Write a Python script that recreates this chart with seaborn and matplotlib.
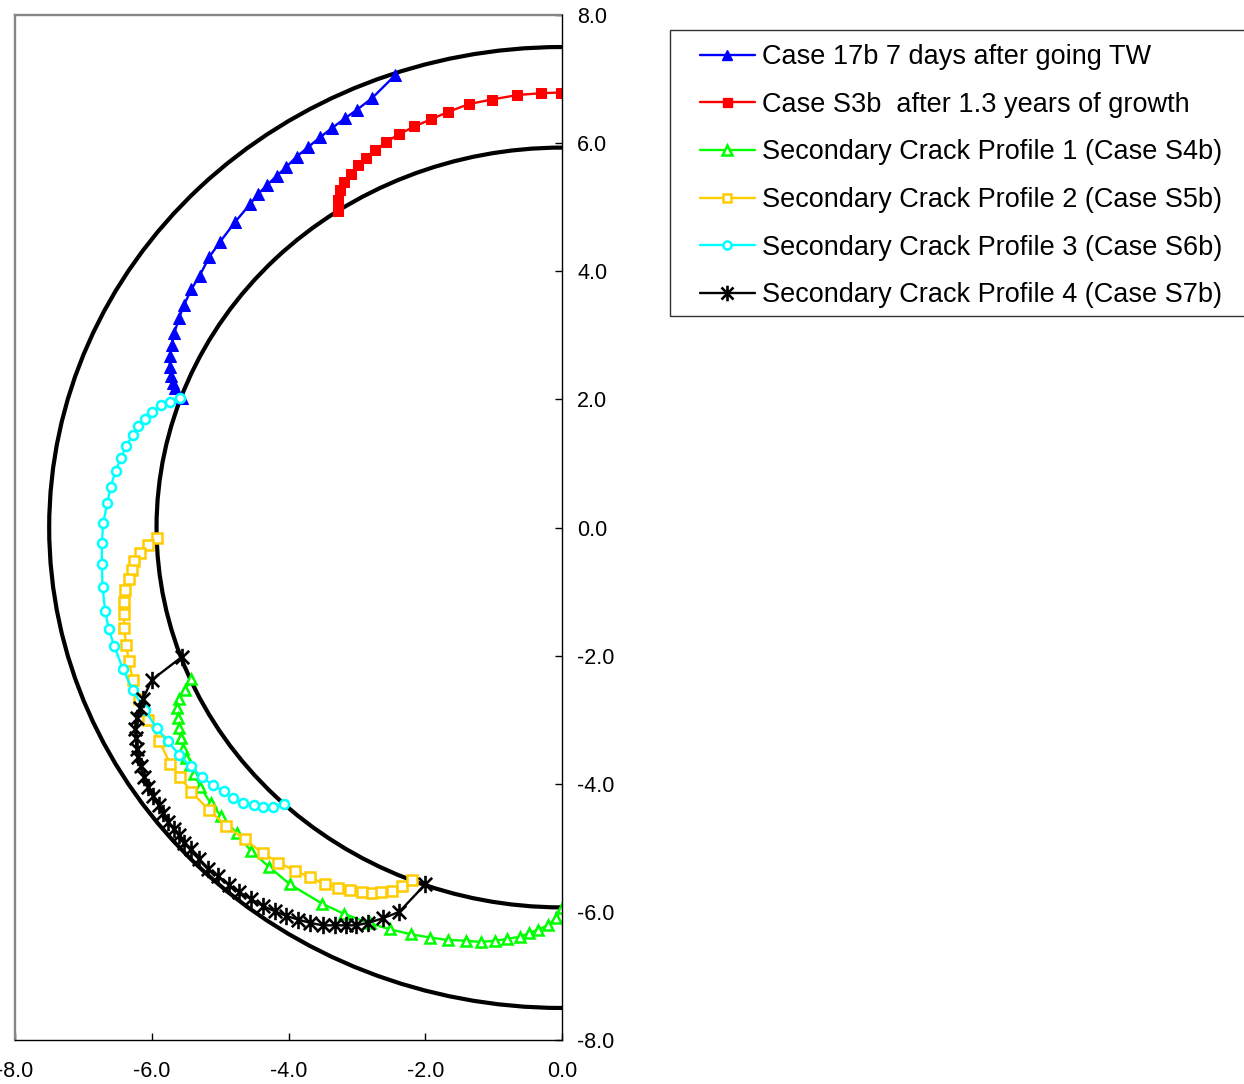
import numpy as np
import pandas as pd
import matplotlib
matplotlib.use("Agg")
import matplotlib.pyplot as plt
import seaborn as sns
from matplotlib.patches import Arc, Rectangle
from matplotlib.path import Path
from matplotlib.lines import Line2D
from matplotlib.ticker import FixedLocator, FuncFormatter

# ---------------- data ----------------
wall_radii = [5.93, 7.5]

case17b_x = [-2.44, -2.78, -3.00, -3.17, -3.37, -3.54, -3.71, -3.88, -4.03, -4.17,
             -4.31, -4.44, -4.56, -4.78, -5.00, -5.16, -5.30, -5.42, -5.53, -5.60,
             -5.67, -5.71, -5.73, -5.74, -5.72, -5.69, -5.66, -5.56]
case17b_y = [7.06, 6.70, 6.52, 6.39, 6.23, 6.09, 5.94, 5.79, 5.63, 5.49,
             5.35, 5.21, 5.05, 4.77, 4.46, 4.22, 3.93, 3.72, 3.47, 3.27,
             3.04, 2.85, 2.68, 2.51, 2.36, 2.25, 2.17, 2.02]

s3b_x = [-0.02, -0.30, -0.66, -1.03, -1.36, -1.66, -1.92, -2.16, -2.38, -2.57,
         -2.73, -2.87, -2.99, -3.09, -3.19, -3.24, -3.27, -3.27]
s3b_y = [6.79, 6.78, 6.75, 6.68, 6.61, 6.49, 6.37, 6.26, 6.14, 6.02,
         5.89, 5.77, 5.66, 5.52, 5.40, 5.27, 5.12, 4.94]

p1_x = [-5.43, -5.51, -5.60, -5.63, -5.61, -5.60, -5.57, -5.54, -5.50, -5.44,
        -5.38, -5.29, -5.14, -4.98, -4.76, -4.55, -4.28, -3.98, -3.51, -3.19,
        -2.81, -2.52, -2.21, -1.93, -1.66, -1.40, -1.19, -0.98, -0.80, -0.62,
        -0.48, -0.35, -0.21, -0.09, 0.00]
p1_y = [-2.37, -2.53, -2.67, -2.82, -2.98, -3.13, -3.29, -3.45, -3.60, -3.71,
        -3.84, -4.05, -4.30, -4.51, -4.77, -5.05, -5.30, -5.57, -5.87, -6.03,
        -6.18, -6.27, -6.35, -6.40, -6.44, -6.45, -6.47, -6.45, -6.42, -6.39,
        -6.33, -6.28, -6.21, -6.10, -5.94]

p2_x = [-5.93, -6.06, -6.17, -6.26, -6.29, -6.34, -6.39, -6.40, -6.41, -6.40,
        -6.38, -6.33, -6.28, -6.18, -6.05, -5.89, -5.73, -5.58, -5.42, -5.16,
        -4.91, -4.64, -4.38, -4.15, -3.90, -3.68, -3.47, -3.27, -3.10, -2.93,
        -2.78, -2.64, -2.49, -2.34, -2.19]
p2_y = [-0.17, -0.27, -0.40, -0.53, -0.66, -0.81, -0.98, -1.16, -1.35, -1.57,
        -1.83, -2.09, -2.38, -2.68, -3.01, -3.33, -3.69, -3.90, -4.13, -4.41,
        -4.66, -4.87, -5.08, -5.23, -5.36, -5.46, -5.57, -5.62, -5.66, -5.69,
        -5.71, -5.69, -5.67, -5.60, -5.50]

p3_x = [-5.58, -5.73, -5.87, -5.99, -6.10, -6.20, -6.28, -6.37, -6.45, -6.53,
        -6.60, -6.65, -6.71, -6.73, -6.73, -6.72, -6.68, -6.63, -6.55, -6.42,
        -6.28, -6.10, -5.93, -5.76, -5.60, -5.43, -5.27, -5.11, -4.95, -4.81,
        -4.66, -4.51, -4.37, -4.22, -4.06]
p3_y = [2.02, 1.96, 1.91, 1.81, 1.70, 1.58, 1.44, 1.28, 1.09, 0.88,
        0.64, 0.38, 0.07, -0.24, -0.57, -0.93, -1.31, -1.58, -1.85, -2.21,
        -2.54, -2.85, -3.13, -3.34, -3.55, -3.73, -3.89, -4.02, -4.12, -4.23,
        -4.30, -4.33, -4.36, -4.36, -4.32]

p4_x = [-5.56, -6.00, -6.13, -6.17, -6.22, -6.24, -6.23, -6.22, -6.20, -6.16,
        -6.11, -6.05, -5.98, -5.90, -5.84, -5.76, -5.68, -5.60, -5.53, -5.42,
        -5.31, -5.18, -5.03, -4.87, -4.72, -4.55, -4.37, -4.20, -4.04, -3.86,
        -3.69, -3.50, -3.32, -3.16, -3.01, -2.83, -2.62, -2.38, -2.00]
p4_y = [-2.02, -2.38, -2.68, -2.82, -2.98, -3.15, -3.29, -3.45, -3.59, -3.73,
        -3.89, -4.05, -4.19, -4.33, -4.46, -4.59, -4.70, -4.80, -4.93, -5.02,
        -5.17, -5.33, -5.44, -5.58, -5.69, -5.80, -5.91, -5.99, -6.06, -6.12,
        -6.17, -6.21, -6.21, -6.21, -6.21, -6.17, -6.10, -6.00, -5.57]

labels = ["Case 17b 7 days after going TW",
          "Case S3b  after 1.3 years of growth",
          "Secondary Crack Profile 1 (Case S4b)",
          "Secondary Crack Profile 2 (Case S5b)",
          "Secondary Crack Profile 3 (Case S6b)",
          "Secondary Crack Profile 4 (Case S7b)"]
x_ticks = [-8, -6, -4, -2, 0]
y_ticks = [-8, -6, -4, -2, 0, 2, 4, 6, 8]

# ---------------- style ----------------
sns.set_theme(style="white")
plt.rcParams['font.family'] = ['Liberation Sans', 'DejaVu Sans']
plt.rcParams['axes.unicode_minus'] = False

W, H = 1244, 1084
fig = plt.figure(figsize=(W / 100, H / 100), dpi=100)
ax = fig.add_axes([15 / W, 1 - 1040 / H, (562 - 15) / W, (1040 - 15) / H])

# pipe walls
for r in wall_radii:
    ax.add_patch(Arc((0, 0), 2 * r, 2 * r, theta1=90, theta2=270,
                     color='black', lw=3.0, zorder=1))

star = Path([(-1, -1), (1, 1), (-1, 1), (1, -1), (0, -1.3), (0, 1.3)],
            [Path.MOVETO, Path.LINETO, Path.MOVETO, Path.LINETO, Path.MOVETO, Path.LINETO])

series = [
    (case17b_x, case17b_y, dict(color='#0000FF', marker='^', markersize=8.5,
                                markerfacecolor='#0000FF', markeredgecolor='#0000FF')),
    (s3b_x, s3b_y, dict(color='#FF0000', marker='s', markersize=7.2,
                        markerfacecolor='#FF0000', markeredgecolor='#FF0000')),
    (p1_x, p1_y, dict(color='#00FF00', marker='^', markersize=7.8,
                      markerfacecolor='white', markeredgecolor='#00FF00', markeredgewidth=1.8)),
    (p2_x, p2_y, dict(color='#FFCC00', marker='s', markersize=6.8,
                      markerfacecolor='white', markeredgecolor='#FFCC00', markeredgewidth=1.8)),
    (p3_x, p3_y, dict(color='#00FFFF', marker='o', markersize=6.5,
                      markerfacecolor='white', markeredgecolor='#00FFFF', markeredgewidth=1.8)),
    (p4_x, p4_y, dict(color='black', marker=star, markersize=12.5,
                      markerfacecolor='none', markeredgecolor='black', markeredgewidth=1.9)),
]

handles = []
for (xs, ys, kw), lab in zip(series, labels):
    sns.lineplot(x=xs, y=ys, sort=False, estimator=None, ax=ax, linewidth=1.7,
                 zorder=3, legend=False, **kw)
    hk = dict(kw)
    hk['markersize'] = kw['markersize'] * 0.9
    handles.append(Line2D([], [], linewidth=1.7, **hk))

ax.set_xlim(-8, 0)
ax.set_ylim(-8, 8)
ax.set_xlabel('')
ax.set_ylabel('')
ax.xaxis.set_major_locator(FixedLocator(x_ticks))
ax.yaxis.set_major_locator(FixedLocator(y_ticks))
fmt = FuncFormatter(lambda v, p: f"{v:.1f}")
ax.xaxis.set_major_formatter(fmt)
ax.yaxis.set_major_formatter(fmt)
ax.yaxis.tick_right()
ax.tick_params(axis='y', direction='in', length=5, width=1, colors='black',
               labelcolor='black', pad=11, labelsize=15.5, right=True, left=False)
ax.tick_params(axis='x', direction='in', length=5, width=1, colors='black',
               labelcolor='black', pad=15, labelsize=15.5, bottom=True)
for s in ['left', 'top']:
    ax.spines[s].set_color('#868686')
    ax.spines[s].set_linewidth(1.7)
for s in ['right', 'bottom']:
    ax.spines[s].set_color('black')
    ax.spines[s].set_linewidth(1.0)
    ax.spines[s].set_zorder(4)

# legend
leg = fig.legend(handles, labels, loc='upper left',
                 bbox_to_anchor=(700 / W, 1 - 44 / H), frameon=False,
                 fontsize=19.5, handlelength=2.03, handletextpad=0.26,
                 labelspacing=0.80, borderpad=0, borderaxespad=0)
for t in leg.get_texts():
    t.set_color('black')
fig.add_artist(Rectangle((670 / W, 1 - 316 / H), (1260 - 670) / W, (316 - 30) / H,
                         transform=fig.transFigure, fill=False,
                         edgecolor='#333333', lw=1.0))

fig.savefig('out.png', dpi=100)
